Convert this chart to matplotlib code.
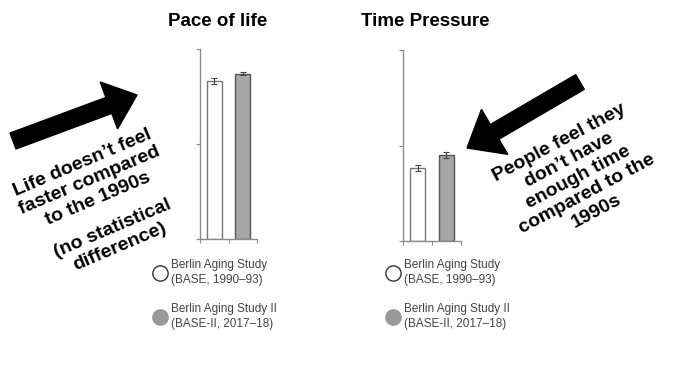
import matplotlib.pyplot as plt
from matplotlib.lines import Line2D
from matplotlib.patches import FancyArrow

plt.rcParams['font.family'] = ['Liberation Sans', 'DejaVu Sans']

# data (normalised scale)
studies = ["Berlin Aging Study\n(BASE, 1990\u201393)", "Berlin Aging Study II\n(BASE-II, 2017\u201318)"]
positions = [0.5, 1.5]
pace = [0.83, 0.87]
pace_err = [0.016, 0.009]
pressure = [0.38, 0.45]
pressure_err = [0.016, 0.016]
titles = ["Pace of life", "Time Pressure"]

face_colors = ["white", "#a6a6a6"]
edge_colors = ["#777777", "#555555"]
spine_col = "#8c8c8c"

W, H = 684, 365
fig = plt.figure(figsize=(6.84, 3.65), dpi=100)

ax_pos = [[200 / W, 126 / H, 57 / W, 190 / H],
          [403 / W, 124 / H, 58 / W, 191 / H]]
title_xy = [(218, 21), (425, 21)]
legend_anchor = [(148 / W, (H - 253) / H), (381 / W, (H - 253) / H)]

for i, (vals, errs) in enumerate([(pace, pace_err), (pressure, pressure_err)]):
    ax = fig.add_axes(ax_pos[i])
    ax.bar(positions, vals, width=0.52, color=face_colors, edgecolor=edge_colors, linewidth=1.0)
    ax.errorbar(positions, vals, yerr=errs, fmt='none', ecolor="#444444",
                elinewidth=0.8, capsize=2, capthick=0.8)
    ax.set_xlim(0, 2)
    ax.set_ylim(0, 1)
    ax.set_xticks([0, 1, 2])
    ax.set_yticks([0, 0.5, 1])
    ax.set_xticklabels([])
    ax.set_yticklabels([])
    ax.tick_params(length=3, width=0.8, color=spine_col)
    for s in ['top', 'right']:
        ax.spines[s].set_visible(False)
    for s in ['left', 'bottom']:
        ax.spines[s].set_color(spine_col)
        ax.spines[s].set_linewidth(1.0)
    tx, ty = title_xy[i]
    fig.text(tx / W, (H - ty) / H, titles[i], fontsize=13.5, fontweight='bold',
             ha='center', va='center')

    handles = [Line2D([], [], marker='o', linestyle='none', markersize=11,
                      markerfacecolor="white", markeredgecolor="#333333", markeredgewidth=1.0),
               Line2D([], [], marker='o', linestyle='none', markersize=11,
                      markerfacecolor="#999999", markeredgecolor="#999999", markeredgewidth=1.0)]
    leg = fig.legend(handles, studies, loc='upper left', bbox_to_anchor=legend_anchor[i],
                     frameon=False, fontsize=8.5, labelspacing=1.45, handlelength=1.0,
                     handletextpad=0.45, borderpad=0, labelcolor="#444444")
    for t in leg.get_texts():
        t.set_linespacing(1.35)

# overlay for arrows and comments
ov = fig.add_axes([0, 0, 1, 1], zorder=5)
ov.set_xlim(0, W)
ov.set_ylim(H, 0)
ov.axis('off')

ov.add_patch(FancyArrow(13, 141, 124, -46, width=17, head_width=50, head_length=30,
                        length_includes_head=True, color='black'))
ov.add_patch(FancyArrow(580, 82, -113, 66, width=17, head_width=52, head_length=32,
                        length_includes_head=True, color='black'))

ov.text(90, 181, "Life doesn\u2019t feel\nfaster compared\nto the 1990s", rotation=23,
        ha='center', va='center', rotation_mode='anchor', fontsize=14,
        fontweight='bold', multialignment='center', linespacing=1.2)
ov.text(116, 238, "(no statistical\ndifference)", rotation=23,
        ha='center', va='center', rotation_mode='anchor', fontsize=14,
        fontweight='bold', multialignment='center', linespacing=1.2)
ov.text(578, 177, "People feel they\ndon\u2019t have\nenough time\ncompared to the\n1990s",
        rotation=28, ha='center', va='center', rotation_mode='anchor', fontsize=14,
        fontweight='bold', multialignment='center', linespacing=1.2)

fig.savefig("out.png", dpi=100)
